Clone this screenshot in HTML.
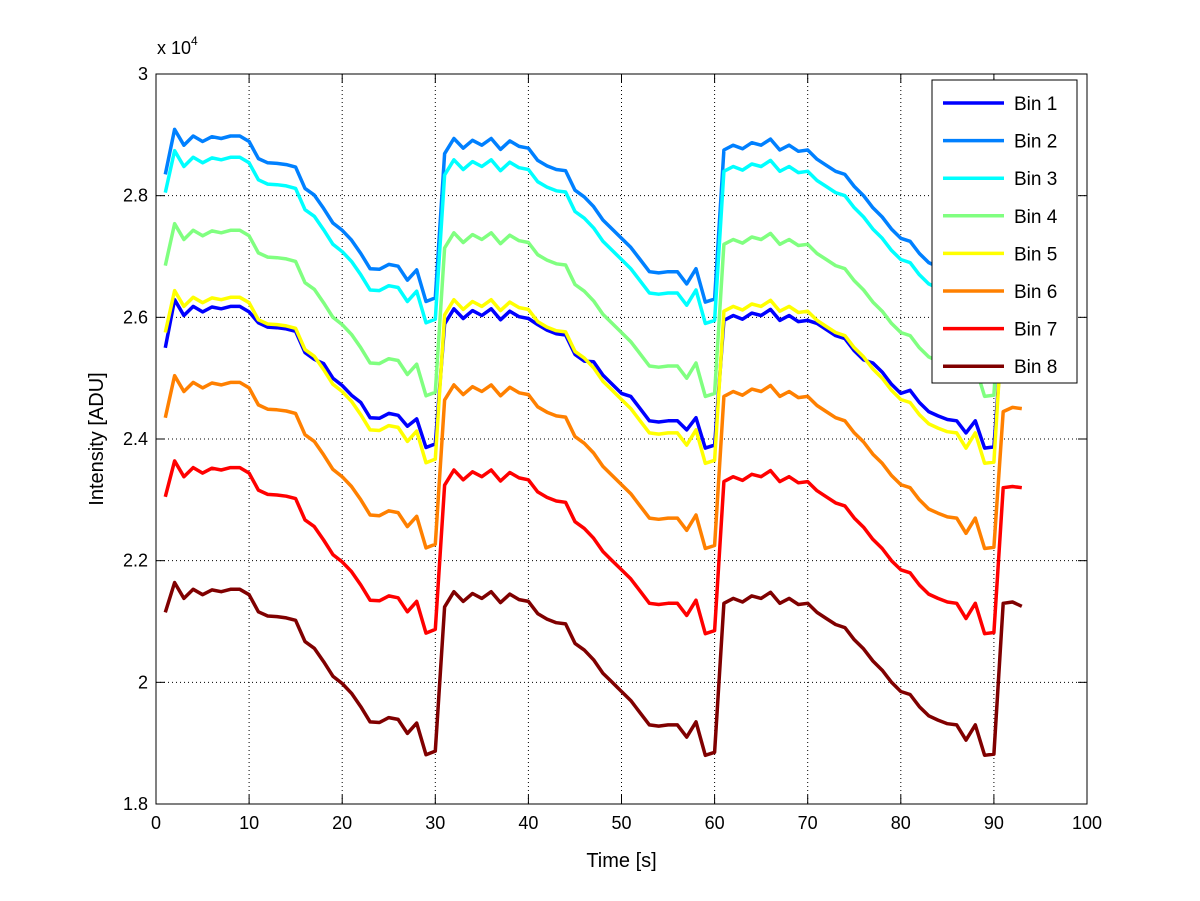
<!DOCTYPE html>
<html><head><meta charset="utf-8"><style>
html,body{margin:0;padding:0;background:#fff;}
svg{display:block;font-family:"Liberation Sans",sans-serif;}
</style></head><body>
<svg id="chart" width="1200" height="901">
<rect width="1200" height="901" fill="#fff"/>
<g id="grid"></g>
<g id="series"></g>
<g id="axes"></g>
<g id="legend"></g>
</svg>
<script>
const xStart = 1;
const xTicks = [0,10,20,30,40,50,60,70,80,90,100];
const yTicks = [18,20,22,24,26,28,30];
const yTickLabels = ["1.8","2","2.2","2.4","2.6","2.8","3"];
const seriesNames = ["Bin 1","Bin 2","Bin 3","Bin 4","Bin 5","Bin 6","Bin 7","Bin 8"];
const seriesColors = ["#0000ff","#0080ff","#00ffff","#80ff80","#ffff00","#ff8000","#ff0000","#800000"];
const bin1 = [25.50,26.29,26.03,26.18,26.09,26.17,26.14,26.18,26.18,26.09,25.91,25.84,25.83,25.81,25.77,25.42,25.31,25.24,25.00,24.88,24.72,24.60,24.35,24.34,24.42,24.39,24.21,24.33,23.86,23.92,25.89,26.14,25.98,26.11,26.03,26.14,25.96,26.10,26.01,25.98,25.88,25.79,25.73,25.71,25.39,25.28,25.27,25.05,24.90,24.75,24.70,24.50,24.30,24.28,24.30,24.30,24.15,24.35,23.85,23.90,25.95,26.03,25.97,26.07,26.03,26.13,25.95,26.03,25.93,25.95,25.90,25.80,25.70,25.65,25.45,25.30,25.25,25.10,24.90,24.75,24.80,24.60,24.45,24.38,24.32,24.30,24.10,24.30,23.85,23.87,25.95,25.97,25.90];
const bin2 = [28.35,29.09,28.83,28.98,28.89,28.97,28.94,28.98,28.98,28.89,28.61,28.54,28.53,28.51,28.47,28.12,28.01,27.79,27.55,27.43,27.27,27.05,26.80,26.79,26.87,26.84,26.61,26.78,26.26,26.32,28.69,28.94,28.78,28.91,28.83,28.94,28.76,28.90,28.81,28.78,28.58,28.49,28.43,28.41,28.09,27.98,27.82,27.60,27.45,27.30,27.15,26.95,26.75,26.73,26.75,26.75,26.55,26.80,26.25,26.30,28.75,28.83,28.77,28.87,28.83,28.93,28.75,28.83,28.73,28.75,28.60,28.50,28.40,28.35,28.15,28.00,27.80,27.65,27.45,27.30,27.25,27.05,26.90,26.83,26.77,26.75,26.50,26.75,26.25,26.27,28.75,28.77,28.70];
const bin3 = [28.05,28.74,28.48,28.63,28.54,28.62,28.59,28.63,28.63,28.54,28.26,28.19,28.18,28.16,28.12,27.77,27.66,27.44,27.20,27.08,26.92,26.70,26.45,26.44,26.52,26.49,26.26,26.43,25.91,25.97,28.34,28.59,28.43,28.56,28.48,28.59,28.41,28.55,28.46,28.43,28.23,28.14,28.08,28.06,27.74,27.63,27.47,27.25,27.10,26.95,26.80,26.60,26.40,26.38,26.40,26.40,26.20,26.45,25.90,25.95,28.40,28.48,28.42,28.52,28.48,28.58,28.40,28.48,28.38,28.40,28.25,28.15,28.05,28.00,27.80,27.65,27.45,27.30,27.10,26.95,26.90,26.70,26.55,26.48,26.42,26.40,26.15,26.40,25.90,25.92,28.40,28.42,28.35];
const bin4 = [26.85,27.54,27.28,27.43,27.34,27.42,27.39,27.43,27.43,27.34,27.06,26.99,26.98,26.96,26.92,26.57,26.46,26.24,26.00,25.88,25.72,25.50,25.25,25.24,25.32,25.29,25.06,25.23,24.71,24.77,27.14,27.39,27.23,27.36,27.28,27.39,27.21,27.35,27.26,27.23,27.03,26.94,26.88,26.86,26.54,26.43,26.27,26.05,25.90,25.75,25.60,25.40,25.20,25.18,25.20,25.20,25.00,25.25,24.70,24.75,27.20,27.28,27.22,27.32,27.28,27.38,27.20,27.28,27.18,27.20,27.05,26.95,26.85,26.80,26.60,26.45,26.25,26.10,25.90,25.75,25.70,25.50,25.35,25.28,25.22,25.20,24.95,25.20,24.70,24.72,27.20,27.22,27.15];
const bin5 = [25.75,26.44,26.18,26.33,26.24,26.32,26.29,26.33,26.33,26.24,25.96,25.89,25.88,25.86,25.82,25.47,25.36,25.14,24.90,24.78,24.62,24.40,24.15,24.14,24.22,24.19,23.96,24.13,23.61,23.67,26.04,26.29,26.13,26.26,26.18,26.29,26.11,26.25,26.16,26.13,25.93,25.84,25.78,25.76,25.44,25.33,25.17,24.95,24.80,24.65,24.50,24.30,24.10,24.08,24.10,24.10,23.90,24.15,23.60,23.65,26.10,26.18,26.12,26.22,26.18,26.28,26.10,26.18,26.08,26.10,25.95,25.85,25.75,25.70,25.50,25.35,25.15,25.00,24.80,24.65,24.60,24.40,24.25,24.18,24.12,24.10,23.85,24.10,23.60,23.62,26.10,26.12,26.05];
const bin6 = [24.35,25.04,24.78,24.93,24.84,24.92,24.89,24.93,24.93,24.84,24.56,24.49,24.48,24.46,24.42,24.07,23.96,23.74,23.50,23.38,23.22,23.00,22.75,22.74,22.82,22.79,22.56,22.73,22.21,22.27,24.64,24.89,24.73,24.86,24.78,24.89,24.71,24.85,24.76,24.73,24.53,24.44,24.38,24.36,24.04,23.93,23.77,23.55,23.40,23.25,23.10,22.90,22.70,22.68,22.70,22.70,22.50,22.75,22.20,22.25,24.70,24.78,24.72,24.82,24.78,24.88,24.70,24.78,24.68,24.70,24.55,24.45,24.35,24.30,24.10,23.95,23.75,23.60,23.40,23.25,23.20,23.00,22.85,22.78,22.72,22.70,22.45,22.70,22.20,22.22,24.45,24.52,24.50];
const bin7 = [23.05,23.64,23.38,23.53,23.44,23.52,23.49,23.53,23.53,23.44,23.16,23.09,23.08,23.06,23.02,22.67,22.56,22.34,22.10,21.98,21.82,21.60,21.35,21.34,21.42,21.39,21.16,21.33,20.81,20.87,23.24,23.49,23.33,23.46,23.38,23.49,23.31,23.45,23.36,23.33,23.13,23.04,22.98,22.96,22.64,22.53,22.37,22.15,22.00,21.85,21.70,21.50,21.30,21.28,21.30,21.30,21.10,21.35,20.80,20.85,23.30,23.38,23.32,23.42,23.38,23.48,23.30,23.38,23.28,23.30,23.15,23.05,22.95,22.90,22.70,22.55,22.35,22.20,22.00,21.85,21.80,21.60,21.45,21.38,21.32,21.30,21.05,21.30,20.80,20.82,23.20,23.22,23.20];
const bin8 = [21.15,21.64,21.38,21.53,21.44,21.52,21.49,21.53,21.53,21.44,21.16,21.09,21.08,21.06,21.02,20.67,20.56,20.34,20.10,19.98,19.82,19.60,19.35,19.34,19.42,19.39,19.16,19.33,18.81,18.87,21.24,21.49,21.33,21.46,21.38,21.49,21.31,21.45,21.36,21.33,21.13,21.04,20.98,20.96,20.64,20.53,20.37,20.15,20.00,19.85,19.70,19.50,19.30,19.28,19.30,19.30,19.10,19.35,18.80,18.85,21.30,21.38,21.32,21.42,21.38,21.48,21.30,21.38,21.28,21.30,21.15,21.05,20.95,20.90,20.70,20.55,20.35,20.20,20.00,19.85,19.80,19.60,19.45,19.38,19.32,19.30,19.05,19.30,18.80,18.82,21.30,21.32,21.25];
const allSeries = [bin1,bin2,bin3,bin4,bin5,bin6,bin7,bin8];

const NS = "http://www.w3.org/2000/svg";
const L = 156, R = 1087, T = 74, B = 804;
const xMin = 0, xMax = 100, yMin = 18, yMax = 30;
function sx(v){ return L + (v - xMin) / (xMax - xMin) * (R - L); }
function sy(v){ return B - (v - yMin) / (yMax - yMin) * (B - T); }
function mk(tag, attrs, parent){ const e = document.createElementNS(NS, tag); for (const k in attrs) e.setAttribute(k, attrs[k]); parent.appendChild(e); return e; }

const grid = document.getElementById('grid');
const axes = document.getElementById('axes');
const seriesG = document.getElementById('series');
const legend = document.getElementById('legend');

xTicks.forEach((t, i) => {
  const x = sx(t);
  if (t > xMin && t < xMax) {
    const g = mk('line', {x1:x, y1:T, x2:x, y2:B, stroke:'#000', 'stroke-width':1, 'stroke-dasharray':'1,3'}, grid);
    
    
  }
  mk('line', {x1:x, y1:B, x2:x, y2:B-9, stroke:'#000', 'stroke-width':1}, axes);
  mk('line', {x1:x, y1:T, x2:x, y2:T+9, stroke:'#000', 'stroke-width':1}, axes);
  const tx = mk('text', {x:x, y:B+25, 'text-anchor':'middle', 'font-size':18, fill:'#000'}, axes);
  tx.textContent = String(t);
  
  
});
yTicks.forEach((t, i) => {
  const y = sy(t);
  if (t > yMin && t < yMax) {
    const g = mk('line', {x1:L, y1:y, x2:R, y2:y, stroke:'#000', 'stroke-width':1, 'stroke-dasharray':'1,3'}, grid);
    
    
  }
  mk('line', {x1:L, y1:y, x2:L+9, y2:y, stroke:'#000', 'stroke-width':1}, axes);
  mk('line', {x1:R, y1:y, x2:R-9, y2:y, stroke:'#000', 'stroke-width':1}, axes);
  const ty = mk('text', {x:L-8, y:y+6, 'text-anchor':'end', 'font-size':18, fill:'#000'}, axes);
  ty.textContent = yTickLabels[i];
  
  
});
const box = mk('rect', {x:L, y:T, width:R-L, height:B-T, fill:'none', stroke:'#000', 'stroke-width':1}, axes);



const ex = mk('text', {x:157, y:54, 'font-size':18, fill:'#000'}, axes);


ex.innerHTML = 'x 10<tspan dy="-9" font-size="12">4</tspan>';

const xl = mk('text', {x:(L+R)/2, y:867, 'text-anchor':'middle', 'font-size':20, fill:'#000'}, axes);
xl.textContent = 'Time [s]';


const yl = mk('text', {x:0, y:0, 'text-anchor':'middle', 'font-size':20, fill:'#000', transform:'translate(103,439) rotate(-90)'}, axes);
yl.textContent = 'Intensity [ADU]';



allSeries.forEach((vals, si) => {
  const pts = vals.map((v, i) => sx(xStart + i).toFixed(1) + ',' + sy(v).toFixed(1)).join(' ');
  const pl = mk('polyline', {points:pts, fill:'none', stroke:seriesColors[si], 'stroke-width':3.5, 'stroke-linejoin':'round'}, seriesG);
  
  
});

const lb = mk('rect', {x:932, y:80, width:145, height:303, fill:'#fff', stroke:'#000', 'stroke-width':1}, legend);


seriesNames.forEach((n, i) => {
  const y = 103 + i * 37.6;
  const g = mk('g', {}, legend);
  
  
  mk('line', {x1:943, y1:y, x2:1004, y2:y, stroke:seriesColors[i], 'stroke-width':3.5}, g);
  const t = mk('text', {x:1014, y:y+7, 'font-size':19, fill:'#000'}, g);
  t.textContent = n;
});
</script>
</body></html>
